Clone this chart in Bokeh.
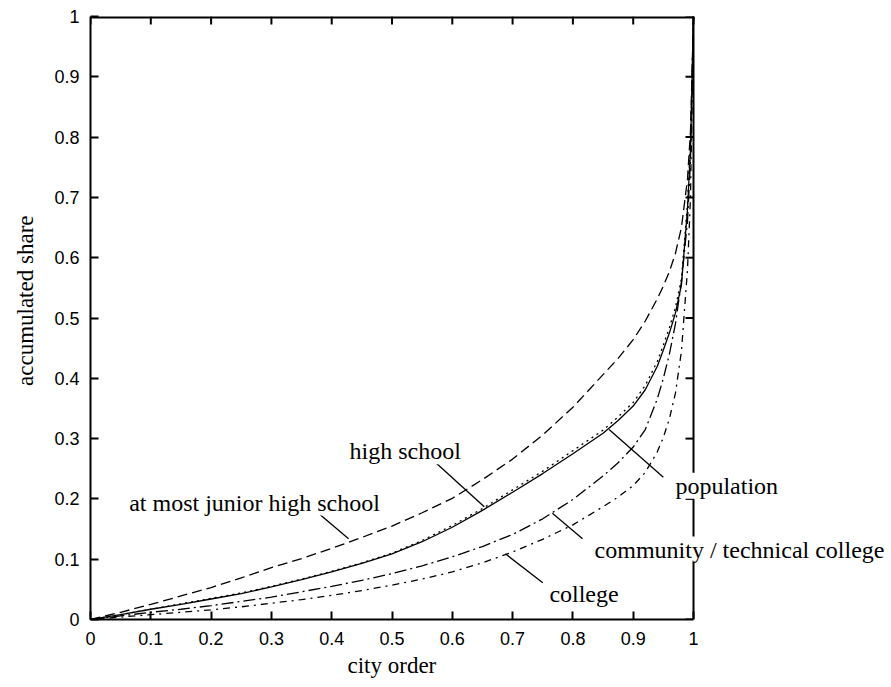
from bokeh.plotting import figure
from bokeh.models import Range1d, FixedTicker, Label, Span, Title
from bokeh.embed import file_html
from bokeh.resources import INLINE

# ---- data ----
city_order = [0, 0.05, 0.1, 0.15, 0.2, 0.25, 0.3, 0.35, 0.4, 0.45, 0.5, 0.55, 0.6, 0.65,
              0.7, 0.75, 0.8, 0.85, 0.875, 0.9, 0.92, 0.94, 0.95, 0.96, 0.97, 0.98, 0.99,
              0.995, 1.0]
junior_high = [0, 0.012, 0.025, 0.039, 0.053, 0.069, 0.086, 0.101, 0.118, 0.136, 0.155, 0.177,
               0.201, 0.232, 0.266, 0.306, 0.352, 0.406, 0.433, 0.464, 0.495, 0.532, 0.553,
               0.577, 0.607, 0.65, 0.73, 0.81, 1.0]
high_school = [0, 0.008, 0.017, 0.025, 0.034, 0.043, 0.054, 0.066, 0.079, 0.093, 0.109, 0.129,
               0.153, 0.181, 0.211, 0.242, 0.275, 0.309, 0.33, 0.354, 0.381, 0.42, 0.447,
               0.475, 0.508, 0.555, 0.68, 0.78, 1.0]
population = [0, 0.008, 0.017, 0.026, 0.035, 0.044, 0.055, 0.067, 0.080, 0.094, 0.110, 0.131,
              0.156, 0.184, 0.215, 0.246, 0.280, 0.314, 0.336, 0.36, 0.388, 0.428, 0.455,
              0.484, 0.517, 0.565, 0.69, 0.79, 1.0]
community_technical = [0, 0.006, 0.012, 0.017, 0.023, 0.03, 0.037, 0.046, 0.055, 0.065, 0.076,
                       0.089, 0.104, 0.121, 0.141, 0.167, 0.199, 0.238, 0.26, 0.286, 0.315,
                       0.366, 0.4, 0.44, 0.49, 0.56, 0.66, 0.76, 1.0]
college = [0, 0.004, 0.008, 0.012, 0.016, 0.021, 0.027, 0.033, 0.04, 0.048, 0.057, 0.067, 0.079,
           0.094, 0.112, 0.133, 0.157, 0.187, 0.203, 0.222, 0.244, 0.278, 0.302, 0.333, 0.375,
           0.445, 0.58, 0.7, 1.0]

ticks = [0, 0.1, 0.2, 0.3, 0.4, 0.5, 0.6, 0.7, 0.8, 0.9, 1]
tick_labels = ["0", "0.1", "0.2", "0.3", "0.4", "0.5", "0.6", "0.7", "0.8", "0.9", "1"]

# annotation texts, anchors and leader lines
label_texts = ["at most junior high school", "high school", "population",
               "community / technical college", "college"]
label_x = [0.272, 0.522, 0.970, 0.836, 0.761]
label_y = [0.194, 0.279, 0.222, 0.116, 0.043]
label_align = ["center", "center", "left", "left", "left"]
leader_x0 = [0.378, 0.564, 0.860, 0.766, 0.688]
leader_y0 = [0.176, 0.268, 0.315, 0.176, 0.109]
leader_x1 = [0.428, 0.653, 0.950, 0.816, 0.750]
leader_y1 = [0.134, 0.187, 0.236, 0.134, 0.061]

SANS = "Liberation Sans"
SERIF = "Liberation Serif"

# ---- layout (pixels) ----
W, H = 886, 687
LEFT, TOP, RIGHT = 90, 16, 1
FRAME_H = 603
BOTTOM = H - TOP - FRAME_H
FRAME_W = W - LEFT - RIGHT
PLOT_W = FRAME_H                  # square plotting box 0..1 x 0..1
X_MAX = FRAME_W / PLOT_W          # frame extends right so the outside labels fit
TICK = 8
tick_dx = TICK / PLOT_W
tick_dy = TICK / FRAME_H

p = figure(width=W, height=H, output_backend="svg", toolbar_location=None,
           x_range=Range1d(0, X_MAX), y_range=Range1d(0, 1),
           min_border_left=LEFT, min_border_right=RIGHT,
           min_border_top=TOP, min_border_bottom=BOTTOM)
p.grid.visible = False
p.outline_line_color = None
p.background_fill_color = "white"
p.border_fill_color = "white"

overrides = {t: s for t, s in zip(ticks, tick_labels)}
xa = p.xaxis[0]
ya = p.yaxis[0]
for ax in [xa, ya]:
    ax.ticker = FixedTicker(ticks=ticks)
    ax.major_label_overrides = overrides
    ax.major_tick_in = TICK
    ax.major_tick_out = 0
    ax.minor_tick_in = 0
    ax.minor_tick_out = 0
    ax.axis_line_width = 2
    ax.major_tick_line_width = 2
    ax.axis_line_color = "black"
    ax.major_tick_line_color = "black"
    ax.major_label_text_font = SANS
    ax.major_label_text_font_size = "18px"
    ax.major_label_text_color = "black"
xa.bounds = (0, 1)
xa.major_label_standoff = 12
ya.major_label_standoff = 11

# axis titles, placed like the reference (centred on the 0..1 box, y label shifted up)
xtitle = Title(text="city order", align="left", offset=257, standoff=6,
               text_font=SERIF, text_font_size="23px", text_font_style="normal",
               text_color="black")
p.add_layout(xtitle, "below")
ytitle = Title(text="accumulated share", align="right", offset=199, standoff=24,
               vertical_align="top",
               text_font=SERIF, text_font_size="23px", text_font_style="normal",
               text_color="black")
p.add_layout(ytitle, "left")

# top border + top ticks, right border + right ticks (mirror of the axes)
n = len(ticks)
p.segment(x0=[0], y0=[1], x1=[1], y1=[1], line_color="black", line_width=4)
p.segment(x0=ticks, y0=[1] * n, x1=ticks, y1=[1 - tick_dy] * n,
          line_color="black", line_width=2)
p.segment(x0=[1] * n, y0=ticks, x1=[1 - tick_dx] * n, y1=ticks,
          line_color="black", line_width=2)
p.add_layout(Span(location=1, dimension="height", line_color="black", line_width=2))

lw = 1.3
p.line(city_order, junior_high, line_color="black", line_width=lw, line_dash="10 5")
p.line(city_order, population, line_color="black", line_width=lw, line_dash="2 4")
p.line(city_order, high_school, line_color="black", line_width=lw)
p.line(city_order, community_technical, line_color="black", line_width=lw, line_dash="12 4 2 4")
p.line(city_order, college, line_color="black", line_width=lw, line_dash="7 5 2 5")

p.segment(x0=leader_x0, y0=leader_y0, x1=leader_x1, y1=leader_y1,
          line_color="black", line_width=1.3)

for t, x, y, a in zip(label_texts, label_x, label_y, label_align):
    p.add_layout(Label(x=x, y=y, text=t, text_align=a, text_baseline="alphabetic",
                       text_font=SERIF, text_font_size="24px", text_color="black",
                       background_fill_color="white"))

open("out.html", "w").write(file_html(p, INLINE))
